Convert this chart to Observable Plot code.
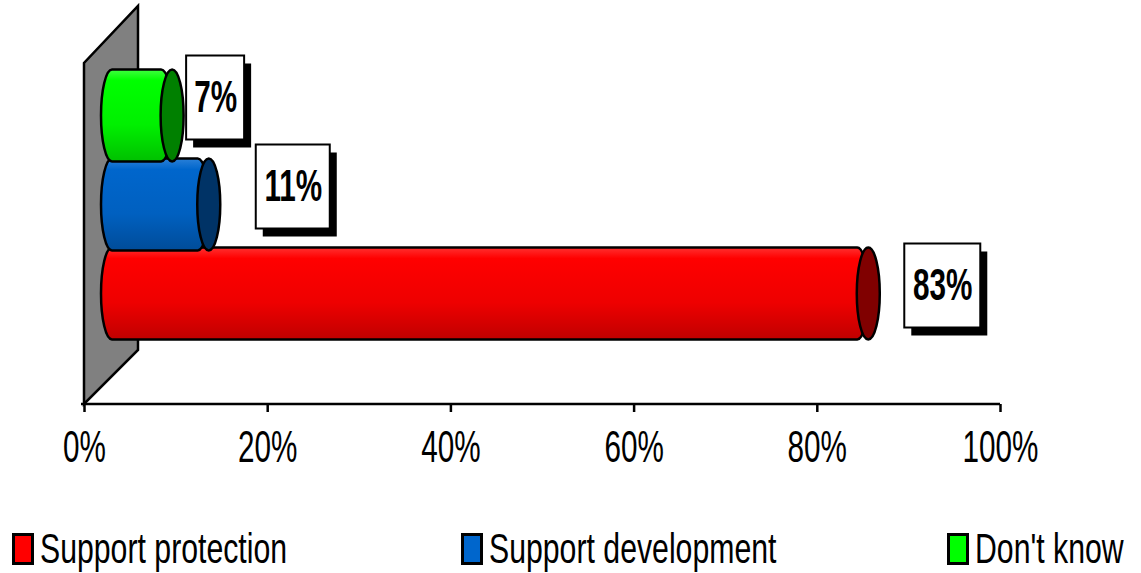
<!DOCTYPE html>
<html><head><meta charset="utf-8">
<script src="https://cdn.jsdelivr.net/npm/d3@7"></script>
<script src="https://cdn.jsdelivr.net/npm/@observablehq/plot@0.6"></script>
<style>
body{margin:0;background:#fff;}
#wrap{position:relative;width:1141px;height:573px;overflow:hidden;font-family:"Liberation Sans",Arial,sans-serif;}
.leg{position:absolute;top:527px;height:44px;display:flex;align-items:center;}
.sw{width:16px;height:26px;border:3px solid #000;box-sizing:content-box;flex:none}
.lt{font-size:42px;transform:scaleX(0.72);transform-origin:left center;white-space:nowrap;margin-left:6px;line-height:44px;color:#000}
</style></head><body><div id="wrap"></div>
<script>
// ---- data ----
const categories = ["Support protection", "Support development", "Don't know"];
const values = [0.83, 0.11, 0.07];
const valueLabels = ["83%", "11%", "7%"];
const xTicks = [0, 0.2, 0.4, 0.6, 0.8, 1];

const data = categories.map((c, i) => ({cat: c, value: values[i], label: valueLabels[i]}));

// ---- styles ----
const bodyFill = {"Support protection": "url(#gRed)", "Support development": "url(#gBlue)", "Don't know": "url(#gGreen)"};
const endFill = {"Support protection": "#800000", "Support development": "#003366", "Don't know": "#008000"};
const legendFill = {"Support protection": "#ff0000", "Support development": "#0066cc", "Don't know": "#00ff00"};
const labelLayout = {
  "Support protection": {dx: 98, dy: -8, w: 76},
  "Support development": {dx: 108, dy: -18, w: 74},
  "Don't know": {dx: 67, dy: -18, w: 58}
};
const depth = 24;

const wall = (index, scales, values, dims) => {
  const x0 = scales.x(0), x1 = scales.x(1);
  const yb = dims.height - dims.marginBottom;
  const g = d3.create("svg:g");
  g.append("polygon")
    .attr("points", [[x0, yb], [x0, 63], [x0 + 54, 6], [x0 + 54, yb - 54]].map(p => p.join(",")).join(" "))
    .attr("fill", "#808080").attr("stroke", "#000").attr("stroke-width", 2.5).attr("stroke-linejoin", "miter");
  g.append("line").attr("x1", x0 - 3).attr("x2", x1).attr("y1", yb).attr("y2", yb)
    .attr("stroke", "#000").attr("stroke-width", 2.5);
  return g.node();
};

const cylMarks = [];
for (const c of categories) {
  const d = data.filter(e => e.cat === c);
  cylMarks.push(Plot.rect(d, {
    x1: () => 0, x2: "value", y: "cat", dx: depth,
    insetLeft: -7, insetTop: -1.5, insetBottom: -1.5, rx: 11, ry: 46,
    fill: bodyFill[c], stroke: "#000", strokeWidth: 2.5
  }));
  cylMarks.push(Plot.rect(d, {
    x1: "value", x2: "value", y: "cat", dx: depth,
    insetLeft: -11.5, insetRight: -11.5, insetTop: -1.5, insetBottom: -1.5, rx: 11.5, ry: 46,
    fill: endFill[c], stroke: "#000", strokeWidth: 2.5
  }));
}

const labelMarks = [];
for (const c of categories) {
  const d = data.filter(e => e.cat === c);
  const L = labelLayout[c];
  labelMarks.push(Plot.rect(d, {
    x1: "value", x2: "value", y: "cat", dx: L.dx + 7, dy: L.dy + 8,
    insetLeft: -L.w / 2, insetRight: -L.w / 2, insetTop: 2.5, insetBottom: 2.5, fill: "#000"
  }));
  labelMarks.push(Plot.rect(d, {
    x1: "value", x2: "value", y: "cat", dx: L.dx, dy: L.dy,
    insetLeft: -L.w / 2, insetRight: -L.w / 2, insetTop: 2.5, insetBottom: 2.5,
    fill: "#fff", stroke: "#000", strokeWidth: 2
  }));
  labelMarks.push(Plot.text(d, {
    x: "value", y: "cat", text: "label", dx: L.dx, dy: L.dy,
    fontSize: 44, fontWeight: "bold", fill: "#000", ariaLabel: "value-label"
  }));
}

const svg = Plot.plot({
  width: 1141,
  height: 520,
  marginLeft: 84,
  marginRight: 141,
  marginTop: 0,
  marginBottom: 116,
  style: {fontFamily: "Liberation Sans, Arial, sans-serif", color: "#000", background: "transparent", overflow: "visible"},
  x: {domain: [0, 1]},
  y: {domain: [...categories].reverse(), range: [71, 338], padding: 0, axis: null},
  marks: [
    wall,
    ...cylMarks,
    ...labelMarks,
    Plot.axisX({ticks: xTicks, tickFormat: d3.format(".0%"), tickSize: 8, tickPadding: 18, fontSize: 44, strokeWidth: 2.5, label: null})
  ]
});

// gradients
const defs = d3.select(svg).insert("defs", ":first-child");
function grad(id, stops) {
  const g = defs.append("linearGradient").attr("id", id).attr("x1", 0).attr("y1", 0).attr("x2", 0).attr("y2", 1);
  stops.forEach(([o, col]) => g.append("stop").attr("offset", o).attr("stop-color", col));
}
grad("gRed", [[0, "#ff3030"], [0.12, "#ff0000"], [0.6, "#ee0000"], [1, "#c00000"]]);
grad("gBlue", [[0, "#2a80d8"], [0.12, "#0066cc"], [0.6, "#0060c0"], [1, "#004c99"]]);
grad("gGreen", [[0, "#40ff40"], [0.12, "#00ff00"], [0.6, "#00f000"], [1, "#00c000"]]);

// condense text horizontally (narrow face)
d3.select(svg).selectAll("text").each(function () {
  const tr = this.getAttribute("transform") || "";
  this.setAttribute("transform", `${tr} scale(0.675,1)`);
});

const wrap = document.getElementById("wrap");
wrap.appendChild(svg);

// legend
const legendLeft = [12, 461, 947];
categories.forEach((c, i) => {
  const item = document.createElement("div");
  item.className = "leg";
  item.style.left = legendLeft[i] + "px";
  const sw = document.createElement("div");
  sw.className = "sw";
  sw.style.background = legendFill[c];
  const t = document.createElement("span");
  t.className = "lt";
  t.textContent = c;
  item.appendChild(sw); item.appendChild(t);
  wrap.appendChild(item);
});
</script></body></html>
